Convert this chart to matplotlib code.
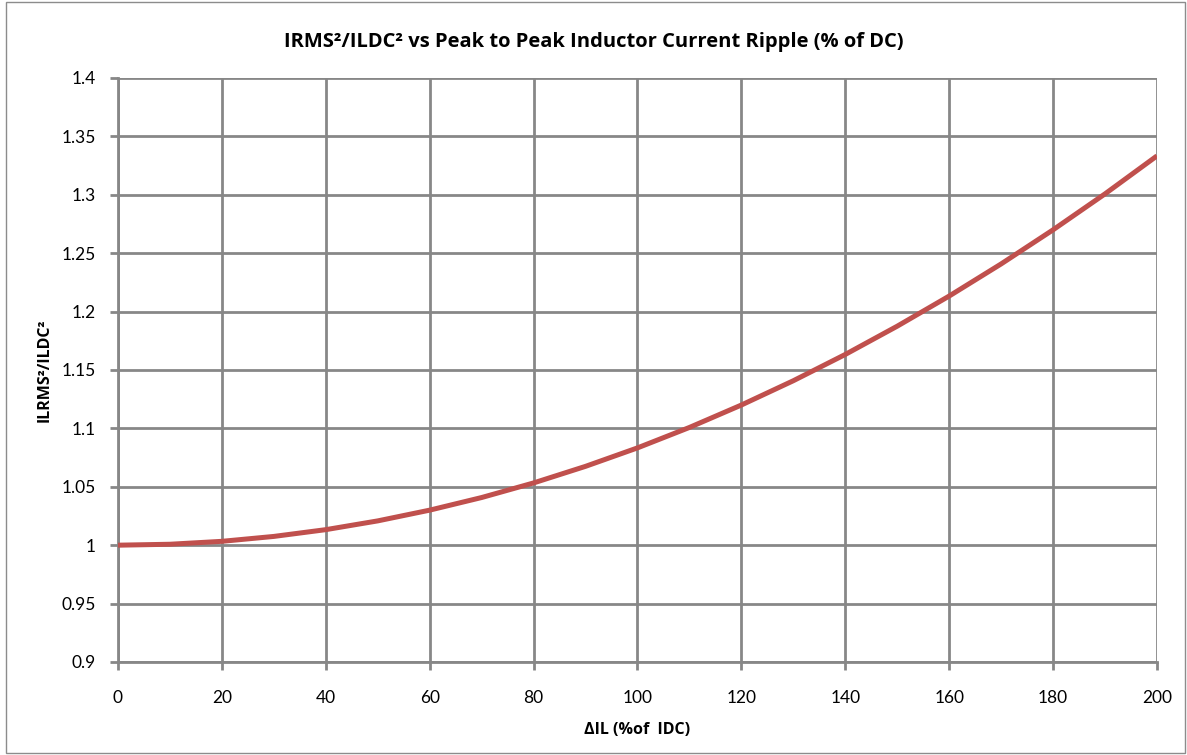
import matplotlib
matplotlib.use("Agg")
import matplotlib.pyplot as plt
from matplotlib.patches import Rectangle

############### Data ###############
ripple_pct = [0, 10, 20, 30, 40, 50, 60, 70, 80, 90, 100,
              110, 120, 130, 140, 150, 160, 170, 180, 190, 200]
rms_ratio = [1.0, 1.0008, 1.0033, 1.0075, 1.0133, 1.0208, 1.030, 1.0408, 1.0533, 1.0675, 1.0833,
             1.1008, 1.120, 1.1408, 1.1633, 1.1875, 1.2133, 1.2408, 1.270, 1.3008, 1.3333]
x_ticks = [0, 20, 40, 60, 80, 100, 120, 140, 160, 180, 200]
y_ticks = [0.9, 0.95, 1, 1.05, 1.1, 1.15, 1.2, 1.25, 1.3, 1.35, 1.4]
y_labels = ["0.9", "0.95", "1", "1.05", "1.1", "1.15", "1.2", "1.25", "1.3", "1.35", "1.4"]

GRID = "#878787"
LINE = "#C0504D"
BOLD_FONT = ["Open Sans", "DejaVu Sans"]
plt.rcParams["font.family"] = ["Lato", "DejaVu Sans"]

############### Plot ###############
fig = plt.figure(figsize=(11.87, 7.55), dpi=100)
# outer chart border
fig.patches.append(Rectangle((0.005, 0.003), 0.993, 0.994, transform=fig.transFigure,
                             fill=False, edgecolor="#8c8c8c", linewidth=1.0))

ax = fig.add_axes([0.0994, 0.1232, 0.8753, 0.7735])
ax.plot(ripple_pct, rms_ratio, color=LINE, linewidth=3.6, solid_capstyle="butt", zorder=3)

ax.set_xlim(0, 200)
ax.set_ylim(0.9, 1.4)
ax.set_xticks(x_ticks)
ax.set_yticks(y_ticks)
ax.set_yticklabels(y_labels)
ax.grid(True, color=GRID, linewidth=2.0)
ax.set_axisbelow(True)
for s in ax.spines.values():
    s.set_visible(False)
ax.spines["left"].set_visible(True)
ax.spines["bottom"].set_visible(True)
ax.spines["left"].set_color(GRID)
ax.spines["bottom"].set_color(GRID)
ax.spines["left"].set_linewidth(2.0)
ax.spines["bottom"].set_linewidth(2.0)
ax.tick_params(axis="both", length=6, width=2.0, color=GRID, labelsize=12.5, labelcolor="black")
ax.tick_params(axis="x", pad=14)
ax.tick_params(axis="y", pad=10)

# title is centred on the whole chart, not on the plot area
fig.text(0.5, 0.945, "IRMS\u00b2/ILDC\u00b2 vs Peak to Peak Inductor Current Ripple (% of DC)",
         ha="center", va="center", fontsize=14.5, fontweight="bold", family=BOLD_FONT)
ax.set_xlabel("\u0394IL (%of  IDC)", fontsize=11.5, fontweight="bold", labelpad=12, family=BOLD_FONT)
ax.set_ylabel("ILRMS\u00b2/ILDC\u00b2", fontsize=11.5, fontweight="bold", labelpad=6, family=BOLD_FONT)

fig.savefig("out.png", dpi=100)
